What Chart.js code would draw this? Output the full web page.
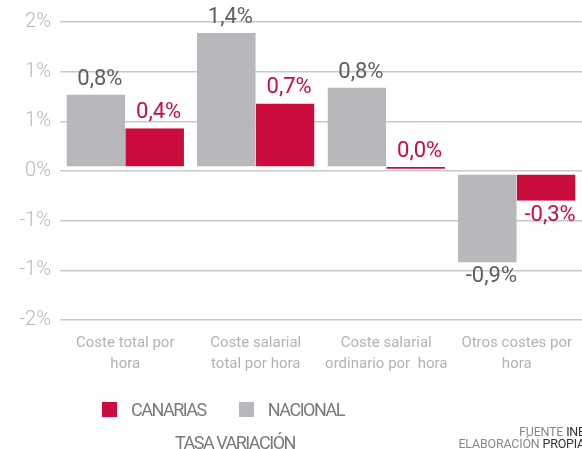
<!DOCTYPE html>
<html>
<head>
<meta charset="utf-8">
<script src="https://cdn.jsdelivr.net/npm/chart.js@4.4.1/dist/chart.umd.min.js"></script>
<style>
  html, body { margin: 0; padding: 0; background: #fff; }
  #marco { position: relative; width: 582px; height: 449px; overflow: hidden; }
  #grafico { display: block; }
  #leyenda { position: absolute; left: 102px; top: 399px; display: flex; align-items: center;
    font-family: Roboto, sans-serif; font-size: 18px; letter-spacing: -1.5px; color: #7a7a7a; }
  #leyenda .item { display: flex; align-items: center; margin-right: 33px; }
  #leyenda .caja { width: 15px; height: 15px; margin-right: 14px; }
  #titulo { position: absolute; left: 175px; top: 432px; font-family: Roboto, sans-serif;
    font-size: 18px; letter-spacing: -1.5px; color: #7a7a7a; white-space: nowrap; }
  #fuente { position: absolute; right: -3px; top: 426px; text-align: right; font-family: Roboto, sans-serif;
    font-size: 12.5px; line-height: 12px; letter-spacing: -0.2px; color: #8a8a8a; white-space: nowrap; }
  #fuente b { font-weight: normal; color: #333; }
</style>
</head>
<body>
<div id="marco">
  <canvas id="grafico" width="582" height="449"></canvas>
  <div id="leyenda"></div>
  <div id="titulo">TASA VARIACIÓN</div>
  <div id="fuente">FUENTE <b>INE</b><br>ELABORACIÓN <b>PROPIA</b></div>
</div>
<script>
// datos
const categorias = [
  ['Coste total por', 'hora'],
  ['Coste salarial', 'total por hora'],
  ['Coste salarial', 'ordinario por  hora'],
  ['Otros costes por', 'hora']
];
const nacional = [0.77, 1.39, 0.84, -0.92];
const canarias = [0.43, 0.68, 0.04, -0.30];
const ticksY = [-1.5, -1, -0.5, 0, 0.5, 1, 1.5];

const gris = '#b7b8bb';
const rojo = '#cc0c3d';
const colorTexto = ['#5f5f5f', rojo];

function formato(v) {
  return v.toFixed(1).replace('.', ',') + '%';
}

// etiquetas encima / debajo de cada barra
const etiquetas = {
  id: 'etiquetas',
  afterDatasetsDraw(chart) {
    const ctx = chart.ctx;
    chart.data.datasets.forEach((ds, i) => {
      chart.getDatasetMeta(i).data.forEach((bar, j) => {
        const v = ds.data[j];
        ctx.save();
        ctx.font = '22px Roboto';
        ctx.fillStyle = colorTexto[i];
        ctx.textAlign = 'center';
        ctx.textBaseline = 'alphabetic';
        if (v >= 0) {
          ctx.fillText(formato(v), bar.x + 4, bar.y - 10);
        } else {
          ctx.fillText(formato(v), bar.x + 4, bar.y + 20);
        }
        ctx.restore();
      });
    });
  }
};

const config = {
  type: 'bar',
  data: {
    labels: categorias,
    datasets: [
      { label: 'NACIONAL', data: nacional, backgroundColor: gris },
      { label: 'CANARIAS', data: canarias, backgroundColor: rojo }
    ]
  },
  options: {
    responsive: false,
    animation: false,
    layout: { padding: { top: 22, bottom: 69, left: 0, right: 0 } },
    datasets: {
      bar: {
        barPercentage: 1,
        categoryPercentage: 0.9,
        borderSkipped: false,
        borderColor: '#fff',
        borderWidth: c => c.raw >= 0 ? { top: 0, right: 0, bottom: 4, left: 0 } : { top: 3, right: 0, bottom: 0, left: 0 }
      }
    },
    plugins: {
      legend: { display: false },
      tooltip: { enabled: false }
    },
    scales: {
      x: {
        grid: { display: false },
        border: { display: false },
        ticks: {
          color: '#b3b3b3',
          font: { family: 'Roboto', size: 15, lineHeight: 1.45 },
          padding: 4,
          maxRotation: 0,
          autoSkip: false
        },
        afterFit: s => { s.height = 60; }
      },
      y: {
        min: -1.5,
        max: 1.5,
        afterBuildTicks: s => { s.ticks = ticksY.map(v => ({ value: v })); },
        grid: { color: '#c9c9c9', lineWidth: 1.5, drawTicks: false },
        border: { display: false },
        ticks: {
          color: '#b8b8b8',
          font: { family: 'Roboto', size: 20, weight: 300 },
          padding: 9,
          callback: v => (v < 0 ? '-' : '') + Math.round(Math.abs(v)) + '%'
        },
        afterFit: s => { s.width = 60; }
      }
    }
  },
  plugins: [etiquetas]
};

const chart = new Chart(document.getElementById('grafico'), config);

// leyenda: canarias primero
const leyenda = document.getElementById('leyenda');
chart.data.datasets.slice().reverse().forEach(ds => {
  leyenda.innerHTML += `<div class="item"><div class="caja" style="background:${ds.backgroundColor}"></div>${ds.label}</div>`;
});
</script>
</body>
</html>
